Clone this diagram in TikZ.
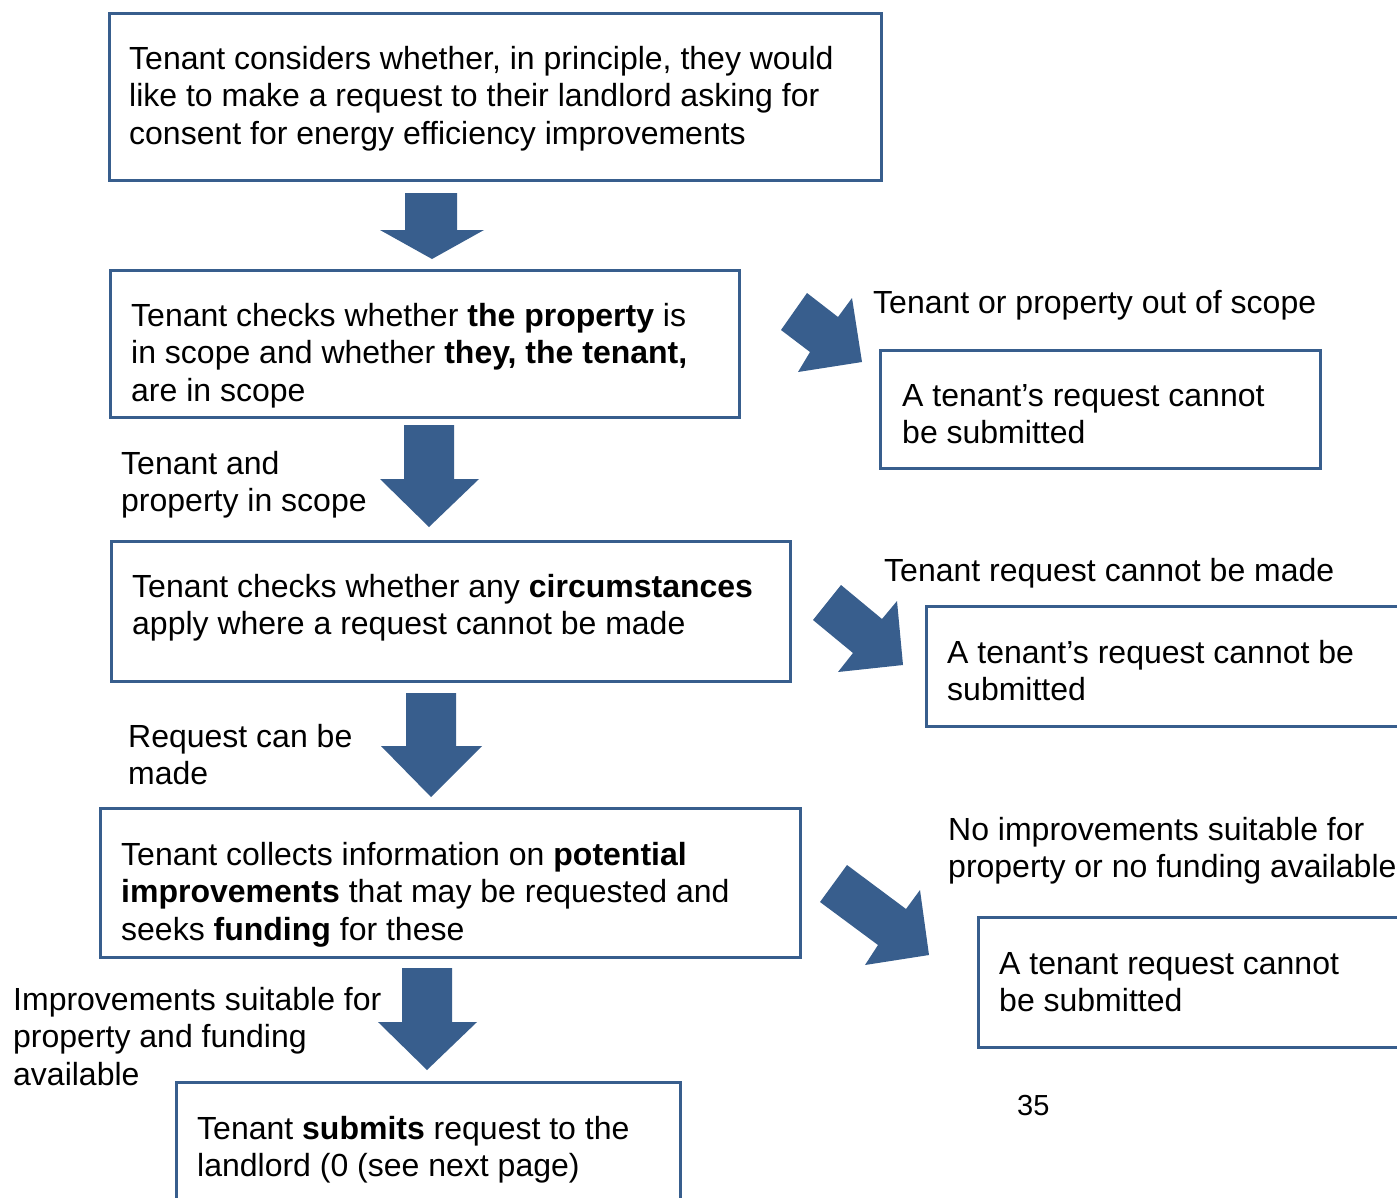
\documentclass[tikz,border=0pt]{standalone}
\usepackage{fontspec}
\setmainfont{Liberation Sans}
\definecolor{flowblue}{RGB}{56,94,141}
\begin{document}
\begin{tikzpicture}[x=1pt,y=-1pt,
  box/.style={draw=flowblue, line width=3pt, fill=none, inner sep=0pt},
  txt/.style={anchor=base west, align=left, inner sep=0pt, font=\fontsize{32}{37.5}\selectfont},
  blockarrow/.style={fill=flowblue, draw=none}]
\useasboundingbox (0,0) rectangle (1397,1197);
\clip (0,0) rectangle (1397,1197);
\fill[white] (0,0) rectangle (1397,1197);

% boxes
\node[box, minimum width=772pt, minimum height=167pt] (b1) at (495,96.5) {};
\node[box, minimum width=629pt, minimum height=147pt] (b2) at (424.5,343.5) {};
\node[box, minimum width=440pt, minimum height=118pt] (r1) at (1100,409) {};
\node[box, minimum width=679pt, minimum height=140pt] (b3) at (450.5,611) {};
\node[box, minimum width=474pt, minimum height=120pt] (r2) at (1163,666) {};
\node[box, minimum width=700pt, minimum height=149pt] (b4) at (450,882.5) {};
\node[box, minimum width=422pt, minimum height=130pt] (r3) at (1189,982) {};
\node[box, minimum width=504pt, minimum height=118pt] (b5) at (428,1141) {};

% texts (anchor = baseline of the last line)
\node[txt] (t1) at (129,144) {Tenant considers whether, in principle, they would\\like to make a request to their landlord asking for\\consent for energy efficiency improvements};
\node[txt] (t2) at (131,401) {Tenant checks whether \textbf{the property} is\\in scope and whether \textbf{they, the tenant,}\\are in scope};
\node[txt] (l1) at (873,313) {Tenant or property out of scope};
\node[txt] (tr1) at (902,443.5) {A tenant’s request cannot\\be submitted};
\node[txt] (l2) at (121,511.5) {Tenant and\\property in scope};
\node[txt] (t3) at (132,634.5) {Tenant checks whether any \textbf{circumstances}\\apply where a request cannot be made};
\node[txt] (l3) at (884,581) {Tenant request cannot be made};
\node[txt] (tr2) at (947,700.5) {A tenant’s request cannot be\\submitted};
\node[txt] (l4) at (128,784.5) {Request can be\\made};
\node[txt] (t4) at (121,940) {Tenant collects information on \textbf{potential}\\\textbf{improvements} that may be requested and\\seeks \textbf{funding} for these};
\node[txt] (l5) at (948,877.5) {No improvements suitable for\\property or no funding available};
\node[txt] (tr3) at (999,1011.5) {A tenant request cannot\\be submitted};
\node[txt] (l6) at (13,1085) {Improvements suitable for\\property and funding\\available};
\node[txt] (t5) at (197,1176.5) {Tenant \textbf{submits} request to the\\landlord (0 (see next page)};
\node[txt, font=\fontsize{29}{35}\selectfont] (pg) at (1017,1115) {35};

% down block arrows
\fill[blockarrow] (405,193) -- (457,193) -- (457,230) -- (484,230) -- (432,259) -- (380,230) -- (405,230) -- cycle;
\fill[blockarrow] (404,425) -- (454,425) -- (454,479) -- (479,479) -- (429,527) -- (380,479) -- (404,479) -- cycle;
\fill[blockarrow] (406,693) -- (456,693) -- (456,746) -- (482,746) -- (431,797) -- (381,746) -- (406,746) -- cycle;
\fill[blockarrow] (402,968) -- (452,968) -- (452,1022) -- (477,1022) -- (427,1070) -- (378,1022) -- (402,1022) -- cycle;

% diagonal block arrows
\fill[blockarrow] (781,330) -- (807,293) -- (838,317) -- (852,298) -- (862,362) -- (798,372) -- (810,352) -- cycle;
\fill[blockarrow] (813,620) -- (841,585) -- (882,619) -- (897,601) -- (903,665) -- (838,672) -- (853,653) -- cycle;
\fill[blockarrow] (820,902) -- (847,865) -- (906,909) -- (920,890) -- (929,955) -- (865,965) -- (878,945) -- cycle;
\end{tikzpicture}
\end{document}
